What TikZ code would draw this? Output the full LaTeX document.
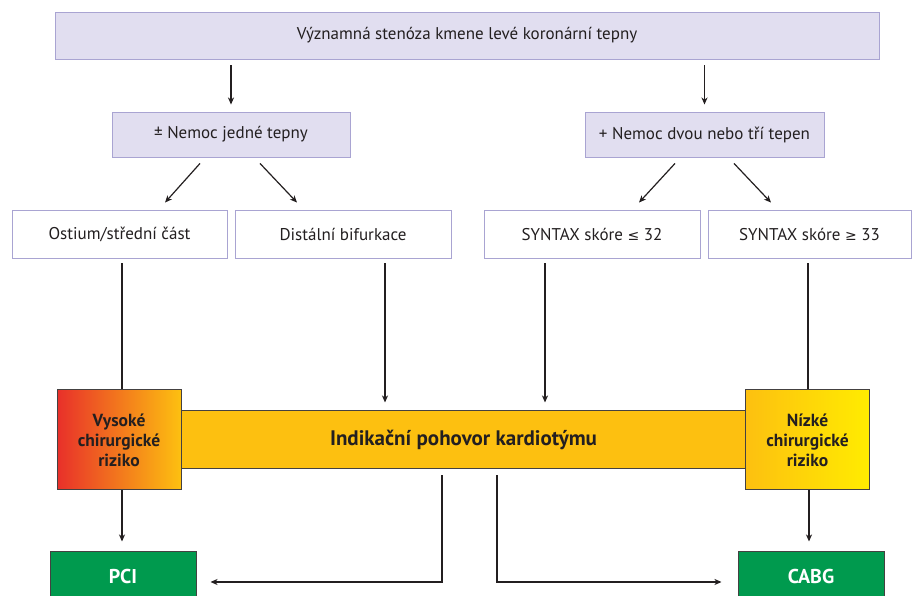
\documentclass[tikz,border=0pt]{standalone}
\usepackage{fontspec}
\setmainfont{PT Sans}
\newfontfamily\symf{DejaVu Sans}
\usetikzlibrary{arrows.meta}
\definecolor{lav}{HTML}{E1DEF0}
\definecolor{lavb}{HTML}{A9A4D2}
\definecolor{txt}{HTML}{231F20}
\definecolor{gold}{HTML}{FDC010}
\definecolor{rd}{HTML}{E8302A}
\definecolor{yl}{HTML}{FFEC00}
\definecolor{grn}{HTML}{009A4E}
\tikzset{
  every node/.style={text=txt, font=\fontsize{17}{20}\selectfont},
  lavbox/.style={draw=lavb, fill=lav, line width=0.9pt, inner sep=0pt},
  whitebox/.style={draw=lavb, fill=white, line width=0.9pt, inner sep=0pt, minimum height=48pt},
  riskbox/.style={draw=txt!85, line width=1pt, inner sep=0pt, minimum width=124pt, minimum height=100pt, align=center, font=\bfseries\fontsize{17.5}{20}\selectfont},
  greenbox/.style={draw=txt!85, fill=grn, line width=1pt, inner sep=0pt, minimum width=146pt, minimum height=50pt, text=white, font=\bfseries\fontsize{20}{22}\selectfont},
  arr/.style={draw=txt, line width=1.2pt, -{Stealth[length=7pt,width=6pt,inset=2pt]}},
  ln/.style={draw=txt, line width=1.2pt}
}
\begin{document}
\begin{tikzpicture}[x=1pt,y=1pt]
\useasboundingbox (0,0) rectangle (912,596);
\node[lavbox, minimum width=824pt, minimum height=47pt] (top) at (467,560.5) {Významná stenóza kmene levé koronární tepny};
\node[lavbox, minimum width=238pt, minimum height=45pt] (l1) at (231,461.5) {± Nemoc jedné tepny};
\node[lavbox, minimum width=239pt, minimum height=45pt] (r1) at (704.5,461.5) {+ Nemoc dvou nebo tří tepen};
\node[whitebox, minimum width=215pt] (b1) at (119.5,362) {Ostium/střední část};
\node[whitebox, minimum width=216pt] (b2) at (343,362) {Distální bifurkace};
\node[whitebox, minimum width=216pt] (b3) at (592,362) {SYNTAX skóre {\symf\fontsize{14}{16}\selectfont ≤} 32};
\node[whitebox, minimum width=203pt] (b4) at (809.5,362) {SYNTAX skóre {\symf\fontsize{14}{16}\selectfont ≥} 33};
\node[draw=txt!85, fill=gold, line width=1pt, minimum width=565pt, minimum height=58pt, inner sep=0pt, font=\bfseries\fontsize{21}{24}\selectfont] (bar) at (463.5,156) {Indikační pohovor kardiotýmu};
\node[riskbox, left color=rd, right color=gold] (vys) at (119,156) {Vysoké\\chirurgické\\riziko};
\node[riskbox, left color=gold, right color=yl] (niz) at (807.5,156) {Nízké\\chirurgické\\riziko};
\node[greenbox] (pci) at (123,19) {PCI};
\node[greenbox] (cabg) at (811,19) {CABG};
% connectors
\draw[arr] ([yshift=-6pt]top.south -| l1.north) -- ([yshift=7pt]l1.north);
\draw[arr] ([yshift=-6pt]top.south -| r1.north) -- ([yshift=7pt]r1.north);
\draw[arr] ([xshift=-31pt,yshift=-6pt]l1.south) -- ([xshift=45.5pt,yshift=7pt]b1.north);
\draw[arr] ([xshift=29pt,yshift=-6pt]l1.south) -- ([xshift=-46pt,yshift=7pt]b2.north);
\draw[arr] ([xshift=-29.5pt,yshift=-6pt]r1.south) -- ([xshift=47pt,yshift=7pt]b3.north);
\draw[arr] ([xshift=29.5pt,yshift=-6pt]r1.south) -- ([xshift=-38.5pt,yshift=7pt]b4.north);
\draw[ln] ([xshift=2.5pt,yshift=-5pt]b1.south) -- ([xshift=2.5pt]b1.south |- vys.north);
\draw[ln] ([xshift=-1.5pt,yshift=-5pt]b4.south) -- ([xshift=-1.5pt]b4.south |- niz.north);
\draw[arr] ([xshift=42pt,yshift=-5pt]b2.south) -- ([xshift=42pt,yshift=8pt]b2.south |- bar.north);
\draw[arr] ([xshift=-47pt,yshift=-5pt]b3.south) -- ([xshift=-47pt,yshift=8pt]b3.south |- bar.north);
\draw[arr] ([xshift=3pt]vys.south) -- ([xshift=3pt,yshift=10pt]vys.south |- pci.north);
\draw[arr] ([xshift=1.5pt]niz.south) -- ([xshift=1.5pt,yshift=10pt]niz.south |- cabg.north);
\draw[arr] ([xshift=-21.5pt,yshift=-6pt]bar.south) |- ([xshift=14pt,yshift=-5pt]pci.east);
\draw[arr] ([xshift=33.5pt,yshift=-6pt]bar.south) |- ([xshift=-16pt,yshift=-5pt]cabg.west);
\end{tikzpicture}
\end{document}
